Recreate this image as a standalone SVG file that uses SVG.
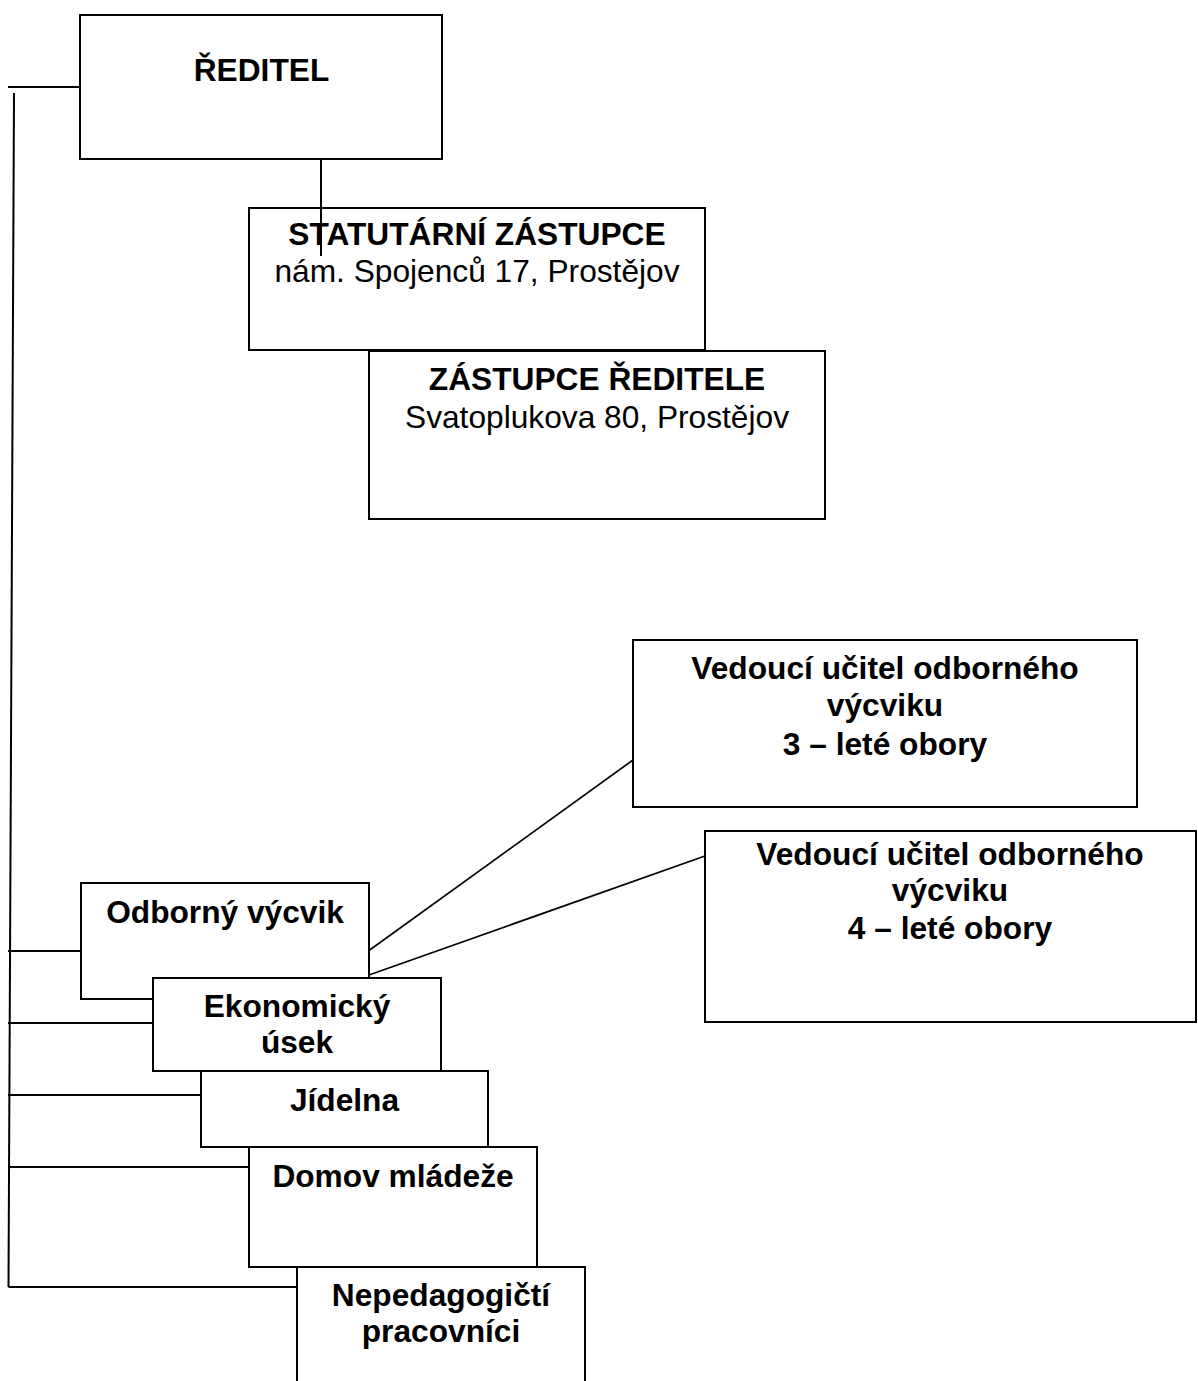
<svg xmlns="http://www.w3.org/2000/svg" width="1198" height="1381" viewBox="0 0 1198 1381">
<style>
.box{fill:#fff;stroke:#000;stroke-width:2}
.ln{fill:none;stroke:#000;stroke-width:2}
.dg{fill:none;stroke:#000;stroke-width:1.7}
text{font-family:"Liberation Sans",Arial,sans-serif;font-size:31.7px;text-anchor:middle;fill:#000}
.b{font-weight:bold}
</style>
<rect width="1198" height="1381" fill="#fff"/>
<g id="n-reditel">
<rect class="box" x="80" y="15" width="362" height="144"/>
<text class="b" x="261.5" y="81">ŘEDITEL</text>
</g>
<g id="n-statutarni">
<rect class="box" x="249" y="208" width="456" height="142"/>
<text class="b" x="477" y="245">STATUTÁRNÍ ZÁSTUPCE</text>
<text x="477" y="282">nám. Spojenců 17, Prostějov</text>
</g>
<g id="n-zastupce">
<rect class="box" x="369" y="351" width="456" height="168"/>
<text class="b" x="597" y="390">ZÁSTUPCE ŘEDITELE</text>
<text x="597" y="428">Svatoplukova 80, Prostějov</text>
</g>
<g id="n-vedouci3">
<rect class="box" x="633" y="640" width="504" height="167"/>
<text class="b" x="885" y="679">Vedoucí učitel odborného</text>
<text class="b" x="885" y="716">výcviku</text>
<text class="b" x="885" y="755">3 – leté obory</text>
</g>
<g id="n-vedouci4">
<rect class="box" x="705" y="831" width="491" height="191"/>
<text class="b" x="950" y="865">Vedoucí učitel odborného</text>
<text class="b" x="950" y="901">výcviku</text>
<text class="b" x="950" y="939">4 – leté obory</text>
</g>
<g id="n-odborny">
<rect class="box" x="81" y="883" width="288" height="116"/>
<text class="b" x="225" y="923">Odborný výcvik</text>
</g>
<g id="n-ekonomicky">
<rect class="box" x="153" y="978" width="288" height="93"/>
<text class="b" x="297" y="1016.5">Ekonomický</text>
<text class="b" x="297" y="1053">úsek</text>
</g>
<g id="n-jidelna">
<rect class="box" x="201" y="1071" width="287" height="76"/>
<text class="b" x="344.5" y="1111">Jídelna</text>
</g>
<g id="n-domov">
<rect class="box" x="249" y="1147" width="288" height="120"/>
<text class="b" x="393" y="1187">Domov mládeže</text>
</g>
<g id="n-nepedagogicti">
<rect class="box" x="297" y="1267" width="288" height="130"/>
<text class="b" x="441" y="1306">Nepedagogičtí</text>
<text class="b" x="441" y="1342">pracovníci</text>
</g>
<g id="connectors">
<line class="ln" x1="8" y1="87" x2="80" y2="87"/>
<line class="ln" x1="14" y1="93" x2="8.5" y2="1287"/>
<line class="ln" x1="8" y1="951" x2="81" y2="951"/>
<line class="ln" x1="8" y1="1023" x2="153" y2="1023"/>
<line class="ln" x1="8" y1="1095" x2="201" y2="1095"/>
<line class="ln" x1="8" y1="1167" x2="249" y2="1167"/>
<line class="ln" x1="8.5" y1="1287" x2="297" y2="1287"/>
<line class="ln" x1="321" y1="159" x2="321" y2="256"/>
<line class="dg" x1="369" y1="950.5" x2="633" y2="760"/>
<line class="dg" x1="369" y1="975" x2="705" y2="856"/>
</g>
</svg>
